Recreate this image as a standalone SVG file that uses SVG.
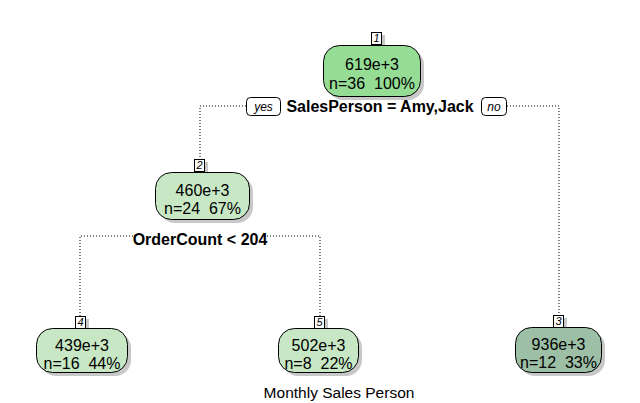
<svg xmlns="http://www.w3.org/2000/svg" width="640" height="403" viewBox="0 0 640 403">
<style>
text{font-family:"Liberation Sans",Arial,sans-serif;text-anchor:middle;white-space:pre}
.t{font-size:16px;fill:#000}
.s{font-size:16px;font-weight:bold}
.n{font-size:11px;font-style:italic}
.yn{font-size:12px;font-style:italic}
.box{stroke:#000;stroke-width:1}
.sh{fill:#c8c8c8}
.lb{fill:#fff;stroke:#000;stroke-width:1}
.c{fill:none;stroke:#000;stroke-width:1;stroke-dasharray:1 2}
</style>
<rect width="640" height="403" fill="#fff"/>
<g id="connectors">
<polyline class="c" points="246,106 200,106 200,159"/>
<polyline class="c" points="507,106 559,106 559,315"/>
<polyline class="c" points="133,236 80,236 80,316"/>
<polyline class="c" points="267,236 320,236 320,316"/>
</g>
<g id="split1">
<rect x="246.5" y="97.5" width="34" height="18" rx="4" class="lb"/>
<text x="263.5" y="111" class="yn">yes</text>
<text x="380" y="112" class="s">SalesPerson = Amy,Jack</text>
<rect x="481.5" y="97.5" width="25" height="18" rx="4" class="lb"/>
<text x="494" y="111" class="yn">no</text>
</g>
<g id="split2">
<text x="200" y="245" class="s">OrderCount &lt; 204</text>
</g>
<g id="node1">
<rect x="375" y="35" width="10" height="12" class="sh"/>
<rect x="371.5" y="32.5" width="10" height="12" class="lb"/>
<text x="376.5" y="42" class="n">1</text>
<rect x="327" y="49" width="97" height="51" rx="16" class="sh"/>
<rect x="323.5" y="45.5" width="97" height="51" rx="16" class="box" fill="#95dc95"/>
<text x="372" y="70" class="t">619e+3</text>
<text x="372" y="89" class="t">n=36  100%</text>
</g>
<g id="node2">
<rect x="198" y="162" width="10" height="12" class="sh"/>
<rect x="194.5" y="159.5" width="10" height="12" class="lb"/>
<text x="199.5" y="169" class="n">2</text>
<rect x="159" y="176" width="94" height="47" rx="16" class="sh"/>
<rect x="155.5" y="172.5" width="94" height="47" rx="16" class="box" fill="#c8e8c5"/>
<text x="202.5" y="196" class="t">460e+3</text>
<text x="202.5" y="214" class="t">n=24  67%</text>
</g>
<g id="node4">
<rect x="79" y="319" width="10" height="12" class="sh"/>
<rect x="75.5" y="316.5" width="10" height="12" class="lb"/>
<text x="80.5" y="326" class="n">4</text>
<rect x="40" y="332" width="91" height="44" rx="16" class="sh"/>
<rect x="36.5" y="328.5" width="91" height="44" rx="16" class="box" fill="#c8e8c5"/>
<text x="82" y="351" class="t">439e+3</text>
<text x="82" y="369" class="t">n=16  44%</text>
</g>
<g id="node5">
<rect x="318" y="319" width="10" height="12" class="sh"/>
<rect x="314.5" y="316.5" width="10" height="12" class="lb"/>
<text x="319.5" y="326" class="n">5</text>
<rect x="282" y="332" width="80" height="44" rx="16" class="sh"/>
<rect x="278.5" y="328.5" width="80" height="44" rx="16" class="box" fill="#c8e8c5"/>
<text x="318.5" y="351" class="t">502e+3</text>
<text x="318.5" y="369" class="t">n=8  22%</text>
</g>
<g id="node3">
<rect x="557" y="318" width="10" height="12" class="sh"/>
<rect x="553.5" y="315.5" width="10" height="12" class="lb"/>
<text x="558.5" y="325" class="n">3</text>
<rect x="519" y="331" width="86" height="45" rx="16" class="sh"/>
<rect x="515.5" y="327.5" width="86" height="45" rx="16" class="box" fill="#9cbfa6"/>
<text x="558.5" y="350" class="t">936e+3</text>
<text x="558.5" y="368" class="t">n=12  33%</text>
</g>
<text x="339" y="398" style="font-size:15.5px">Monthly Sales Person</text>
</svg>
